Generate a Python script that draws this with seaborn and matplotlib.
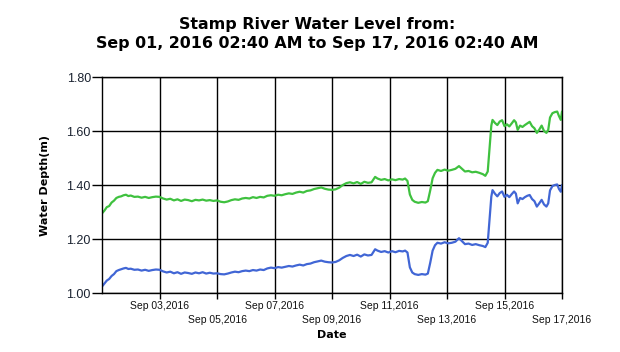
import matplotlib
matplotlib.use("Agg")
import matplotlib.pyplot as plt
import seaborn as sns
import pandas as pd

# ---- data (hours after start, water depth in m) ----
start_time = "2016-09-01 02:40"
hours = [0, 2, 4, 6, 8, 10, 12, 14, 16, 18, 20, 22, 24, 27, 30, 33, 36, 39, 42, 45,
         48, 51, 54, 57, 60, 63, 66, 69, 72, 75, 78, 81, 84, 87, 90, 93, 96, 99, 102, 105,
         108, 111, 114, 117, 120, 123, 126, 129, 132, 135, 138, 141, 144, 147, 150, 153, 156, 159, 162, 165,
         168, 171, 174, 177, 180, 183, 186, 189, 192, 195, 198, 201, 204, 207, 210, 213, 216, 219, 222, 225,
         228, 230, 233, 236, 239, 242, 245, 248, 251, 253, 255, 257, 259, 261, 264, 267, 270, 272, 274, 276,
         278, 280, 283, 286, 289, 292, 295, 298, 300, 303, 306, 309, 312, 315, 318, 320, 322, 324, 325, 326,
         328, 330, 332, 334, 336, 338, 340, 342, 344, 345.5, 347, 349, 351, 353, 355, 357, 359, 361, 363, 365,
         367, 369, 371, 372.5, 374, 376, 378, 380, 381.5, 383, 384]

level_green = [1.295, 1.305, 1.318, 1.322, 1.335, 1.342, 1.352, 1.356, 1.358, 1.362, 1.364, 1.359, 1.361, 1.356, 1.357, 1.353, 1.356, 1.352, 1.355, 1.357,
               1.356, 1.350, 1.346, 1.349, 1.343, 1.347, 1.341, 1.346, 1.344, 1.340, 1.345, 1.343, 1.346, 1.342, 1.344, 1.341, 1.343, 1.338, 1.336, 1.339,
               1.344, 1.347, 1.345, 1.350, 1.352, 1.350, 1.355, 1.352, 1.356, 1.354, 1.360, 1.362, 1.360, 1.364, 1.362, 1.366, 1.369, 1.367, 1.372, 1.375,
               1.372, 1.378, 1.380, 1.385, 1.388, 1.391, 1.386, 1.383, 1.382, 1.384, 1.390, 1.400, 1.407, 1.410, 1.406, 1.411, 1.404, 1.412, 1.408, 1.410,
               1.430, 1.424, 1.419, 1.422, 1.417, 1.421, 1.418, 1.422, 1.420, 1.424, 1.415, 1.365, 1.345, 1.338, 1.334, 1.337, 1.335, 1.340, 1.380, 1.425,
               1.445, 1.456, 1.452, 1.457, 1.453, 1.456, 1.460, 1.470, 1.462, 1.450, 1.452, 1.447, 1.449, 1.445, 1.440, 1.434, 1.450, 1.560, 1.620, 1.641,
               1.630, 1.622, 1.635, 1.640, 1.618, 1.625, 1.617, 1.628, 1.640, 1.632, 1.604, 1.620, 1.615, 1.622, 1.628, 1.634, 1.618, 1.610, 1.593, 1.605,
               1.620, 1.600, 1.593, 1.604, 1.650, 1.666, 1.670, 1.672, 1.655, 1.641, 1.672]

level_blue = [1.024, 1.035, 1.046, 1.052, 1.063, 1.070, 1.081, 1.085, 1.088, 1.091, 1.093, 1.089, 1.090, 1.086, 1.087, 1.083, 1.086, 1.082, 1.085, 1.087,
              1.086, 1.080, 1.076, 1.079, 1.073, 1.077, 1.071, 1.076, 1.074, 1.071, 1.076, 1.073, 1.077, 1.072, 1.075, 1.072, 1.073, 1.070, 1.069, 1.072,
              1.076, 1.079, 1.077, 1.081, 1.083, 1.081, 1.085, 1.083, 1.087, 1.085, 1.091, 1.094, 1.092, 1.096, 1.094, 1.097, 1.100, 1.098, 1.102, 1.105,
              1.102, 1.107, 1.109, 1.114, 1.117, 1.120, 1.116, 1.114, 1.113, 1.115, 1.121, 1.130, 1.137, 1.141, 1.137, 1.142, 1.135, 1.143, 1.139, 1.141,
              1.162, 1.157, 1.152, 1.155, 1.150, 1.155, 1.151, 1.156, 1.154, 1.157, 1.150, 1.095, 1.076, 1.070, 1.067, 1.070, 1.068, 1.072, 1.112, 1.157,
              1.177, 1.186, 1.183, 1.188, 1.184, 1.186, 1.190, 1.203, 1.194, 1.181, 1.183, 1.178, 1.181, 1.177, 1.174, 1.170, 1.186, 1.300, 1.357, 1.381,
              1.368, 1.358, 1.370, 1.376, 1.356, 1.364, 1.355, 1.366, 1.376, 1.368, 1.332, 1.352, 1.348, 1.355, 1.360, 1.363, 1.348, 1.340, 1.320, 1.332,
              1.345, 1.328, 1.320, 1.332, 1.380, 1.396, 1.400, 1.402, 1.385, 1.375, 1.400]

y_ticks = [1.00, 1.20, 1.40, 1.60, 1.80]
x_tick_days = [2, 4, 6, 8, 10, 12, 14, 16]
title_lines = ["Stamp River Water Level from:", "Sep 01, 2016 02:40 AM to Sep 17, 2016 02:40 AM"]

# ---- build table ----
t0 = pd.Timestamp(start_time)
times = [t0 + pd.Timedelta(hours=h) for h in hours]
df = pd.concat([
    pd.DataFrame({"Date": times, "Depth": level_green, "series": "green"}),
    pd.DataFrame({"Date": times, "Depth": level_blue, "series": "blue"}),
])

sns.set_style("white")
plt.rcParams["font.family"] = ["Liberation Sans", "DejaVu Sans"]
plt.rcParams["text.color"] = "black"

fig = plt.figure(figsize=(6.2, 3.52), dpi=100)
ax = fig.add_axes([102 / 620, 1 - 293 / 352, 460 / 620, 216 / 352])

sns.lineplot(data=df, x="Date", y="Depth", hue="series",
             palette={"green": "#3fc13f", "blue": "#4166d5"},
             linewidth=1.6, legend=False, ax=ax)

ax.set_xlim(t0, t0 + pd.Timedelta(days=16))
ax.set_ylim(1.0, 1.8)
ax.set_yticks(y_ticks)
ax.set_yticklabels([f"{v:.2f}" for v in y_ticks], fontsize=9, color="#1a2230")

xt = [t0 + pd.Timedelta(days=d) for d in x_tick_days]
ax.set_xticks(xt)
labels = []
for i, t in enumerate(xt):
    s = t.strftime("%b %d,%Y")
    labels.append(s if i % 2 == 0 else "\n" + s)
ax.set_xticklabels(labels, fontsize=7.5, color="#111111", linespacing=1.45)

ax.grid(True, color="black", linewidth=1.0)
for sp in ax.spines.values():
    sp.set_color("black")
    sp.set_linewidth(1.0)
ax.tick_params(axis="x", bottom=True, length=4, width=1, color="black", direction="out", pad=2)
ax.tick_params(axis="y", left=True, length=7, width=1, color="black", direction="out", pad=1)

ax.set_xlabel("Date", fontsize=8, fontweight="bold", family="DejaVu Sans", labelpad=4, color="black")
ax.set_ylabel("Water Depth(m)", fontsize=8, fontweight="bold", family="DejaVu Sans", labelpad=12, color="black")

fig.text(317 / 620, 1 - 29 / 352, title_lines[0], ha="center", va="baseline",
         fontsize=11.4, fontweight="bold", family="DejaVu Sans", color="black")
fig.text(317 / 620, 1 - 48.3 / 352, title_lines[1], ha="center", va="baseline",
         fontsize=11.4, fontweight="bold", family="DejaVu Sans", color="black")

fig.savefig("out.png", dpi=100)
